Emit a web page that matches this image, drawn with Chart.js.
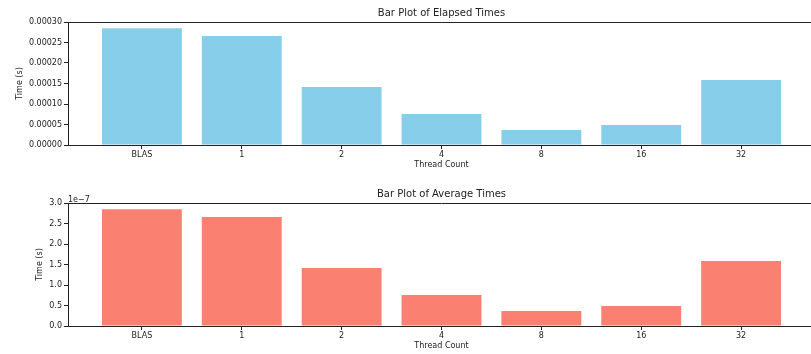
<!DOCTYPE html>
<html lang="en">
<head>
    <meta charset="UTF-8">
    <title>Bar Plot of Elapsed / Average Times</title>
    <script src="https://cdn.jsdelivr.net/npm/chart.js"></script>
    <style>
        html, body { margin: 0; padding: 0; background: #fff; overflow: hidden; width: 811px; height: 354px; }
        .panel { position: absolute; left: 0; }
    </style>
</head>
<body>
    <canvas id="elapsedChart" class="panel" width="830" height="177" style="top:0"></canvas>
    <canvas id="averageChart" class="panel" width="830" height="177" style="top:181px"></canvas>

    <script>
        // data
        const threadLabels = ['BLAS', '1', '2', '4', '8', '16', '32'];
        const elapsedTimes = [0.000285, 0.000266, 0.0001415, 0.0000756, 0.0000366, 0.0000488, 0.0001585];
        const averageTimes = [2.85e-7, 2.66e-7, 1.415e-7, 0.756e-7, 0.366e-7, 0.488e-7, 1.585e-7];
        const elapsedTicks = [0, 0.00005, 0.0001, 0.00015, 0.0002, 0.00025, 0.0003];
        const averageTicks = [0, 0.5e-7, 1e-7, 1.5e-7, 2e-7, 2.5e-7, 3e-7];

        const FONT = 'DejaVu Sans';
        const INK = '#222';

        // axes title and top spine, drawn over the chart area like matplotlib does
        const framePlugin = {
            id: 'frame',
            afterDraw(chart, args, opts) {
                const { ctx, chartArea } = chart;
                ctx.save();
                ctx.strokeStyle = INK;
                ctx.lineWidth = 1;
                ctx.beginPath();
                ctx.moveTo(chartArea.left, chartArea.top + 0.5);
                ctx.lineTo(chartArea.right, chartArea.top + 0.5);
                ctx.stroke();

                ctx.fillStyle = INK;
                ctx.font = '10px "' + FONT + '"';
                ctx.textAlign = 'center';
                ctx.textBaseline = 'middle';
                ctx.fillText(opts.title, (chartArea.left + chartArea.right) / 2, 13);

                if (opts.offsetText) {
                    ctx.font = '8px "' + FONT + '"';
                    ctx.textAlign = 'left';
                    ctx.textBaseline = 'alphabetic';
                    ctx.fillText(opts.offsetText, chartArea.left, 21);
                }
                ctx.restore();
            }
        };

        function makeChart(canvasId, values, yTicks, color, title, offsetText, tickFmt, yTitlePad) {
            return new Chart(document.getElementById(canvasId), {
                type: 'bar',
                data: {
                    datasets: [{
                        data: values.map((v, i) => ({ x: i, y: v })),
                        backgroundColor: color,
                        borderWidth: 0,
                        barPercentage: 0.8,
                        categoryPercentage: 1.0
                    }]
                },
                options: {
                    responsive: false,
                    animation: false,
                    layout: { padding: { top: 22, right: 15, left: 0, bottom: 0 } },
                    plugins: {
                        legend: { display: false },
                        tooltip: { enabled: false },
                        frame: { title: title, offsetText: offsetText }
                    },
                    scales: {
                        x: {
                            type: 'linear',
                            offset: false,
                            min: -0.74,
                            max: 6.74,
                            afterBuildTicks: s => { s.ticks = threadLabels.map((_, i) => ({ value: i })); },
                            afterFit: s => { s.height = 32; },
                            ticks: {
                                callback: v => threadLabels[v],
                                autoSkip: false,
                                maxRotation: 0,
                                padding: 1,
                                color: INK,
                                font: { family: FONT, size: 8 }
                            },
                            grid: { offset: false, drawOnChartArea: false, drawTicks: true, tickLength: 4, color: INK },
                            border: { color: INK, width: 1 },
                            title: {
                                display: true,
                                text: 'Thread Count',
                                color: INK,
                                font: { family: FONT, size: 8 },
                                padding: { top: 0, bottom: 7 }
                            }
                        },
                        y: {
                            min: 0,
                            max: yTicks[yTicks.length - 1],
                            afterBuildTicks: s => { s.ticks = yTicks.map(v => ({ value: v })); },
                            afterFit: s => { s.width = 68; },
                            ticks: {
                                callback: tickFmt,
                                padding: 2,
                                color: INK,
                                font: { family: FONT, size: 8 }
                            },
                            grid: { drawOnChartArea: false, drawTicks: true, tickLength: 4, color: INK },
                            border: { color: INK, width: 1 },
                            title: {
                                display: true,
                                text: 'Time (s)',
                                color: INK,
                                font: { family: FONT, size: 8 },
                                padding: { top: yTitlePad, bottom: 0 }
                            }
                        }
                    }
                },
                plugins: [framePlugin]
            });
        }

        makeChart('elapsedChart', elapsedTimes, elapsedTicks, '#87CEEB',
            'Bar Plot of Elapsed Times', null, v => v.toFixed(5), 15);
        makeChart('averageChart', averageTimes, averageTicks, '#FA8072',
            'Bar Plot of Average Times', '1e\u22127', v => (v / 1e-7).toFixed(1), 35);
    </script>
</body>
</html>
